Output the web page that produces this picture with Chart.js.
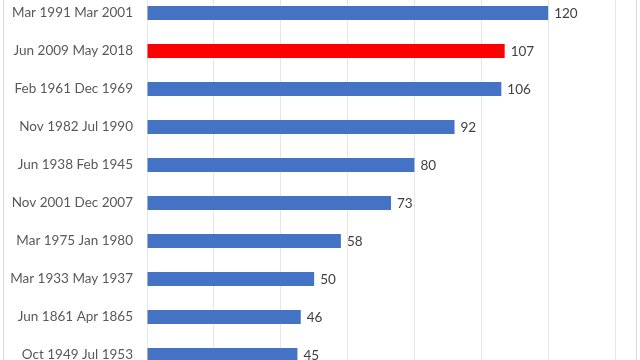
<!DOCTYPE html>
<html><head><meta charset="utf-8">
<script src="https://cdn.jsdelivr.net/npm/chart.js@4"></script>
<style>
html,body{margin:0;padding:0;background:#fff;overflow:hidden;width:640px;height:360px;}
#frame{position:absolute;left:3px;top:-10px;width:634px;height:400px;border:1px solid #d9d9d9;box-sizing:border-box;}
#wrap{position:absolute;left:0;top:-6px;width:640px;height:380px;}
</style></head>
<body>
<div id="frame"></div>
<div id="wrap"><canvas id="c"></canvas></div>
<script>
const categories = ["Mar 1991 Mar 2001","Jun 2009 May 2018","Feb 1961 Dec 1969","Nov 1982 Jul 1990","Jun 1938 Feb 1945","Nov 2001 Dec 2007","Mar 1975 Jan 1980","Mar 1933 May 1937","Jun 1861 Apr 1865","Oct 1949 Jul 1953"];
const months = [120,107,106,92,80,73,58,50,46,45];
const highlight = ["Jun 2009 May 2018"];
const xTicks = [0,20,40,60,80,100,120,140];

const FONT = 'Lato, "Open Sans", sans-serif';
const labelPlugin = {
  id:'valLabels',
  afterDatasetsDraw(chart){
    const ctx = chart.ctx;
    const meta = chart.getDatasetMeta(0);
    ctx.save();
    ctx.font = '13.5px ' + FONT;
    ctx.fillStyle = '#404040';
    ctx.textAlign = 'left';
    ctx.textBaseline = 'middle';
    meta.data.forEach((el,i)=>{
      ctx.fillText(String(months[i]), el.x + 6, el.y + 1);
    });
    ctx.restore();
  }
};

new Chart(document.getElementById('c'),{
  type:'bar',
  data:{labels:categories,datasets:[{
    data:months,
    backgroundColor:categories.map(c=>highlight.includes(c)?'#FF0000':'#4472C4'),
    borderWidth:0,
    categoryPercentage:1,
    barPercentage:14/38
  }]},
  options:{
    indexAxis:'y',
    responsive:true,maintainAspectRatio:false,animation:false,
    layout:{padding:0},
    plugins:{legend:{display:false},tooltip:{enabled:false}},
    scales:{
      x:{min:0,max:140,
        afterBuildTicks(s){s.ticks=xTicks.map(v=>({value:v}));},
        afterFit(s){s.height=0;s.paddingLeft=0;s.paddingRight=0;},
        ticks:{display:false},
        grid:{color:'#e6e6e6',drawTicks:false},
        border:{display:false}},
      y:{
        afterFit(s){s.width=147;s.paddingTop=0;s.paddingBottom=0;},
        ticks:{padding:14,color:'#595959',font:{family:FONT,size:13.5}},
        grid:{display:false,drawTicks:false},
        border:{display:false}}
    }
  },
  plugins:[labelPlugin,{id:'rightpad',beforeLayout(chart){chart.options.layout.padding={left:0,right:25,top:0,bottom:0};}}]
});
</script>
</body></html>
